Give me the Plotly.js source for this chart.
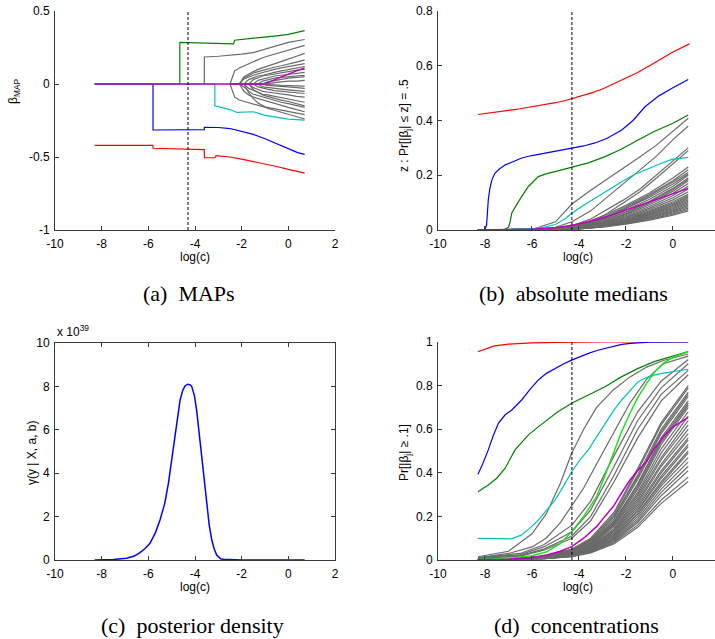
<!DOCTYPE html>
<html><head><meta charset="utf-8">
<script src="https://cdn.plot.ly/plotly-3.0.1.min.js"></script>
<style>html,body{margin:0;padding:0;background:#fff}#chart{width:715px;height:639px}</style>
</head><body><div id="chart"></div>
<script>
// ---------- tick labels ----------
const xTicks = [-10, -8, -6, -4, -2, 0, 2];
const xTickText = ['-10', '-8', '-6', '-4', '-2', '0', '2'];
const yTicksA = [-1, -0.5, 0, 0.5];
const yTickTextA = ['-1', '-0.5', '0', '0.5'];
const yTicksB = [0, 0.2, 0.4, 0.6, 0.8];
const yTicksC = [0, 2, 4, 6, 8, 10];
const yTicksD = [0, 0.2, 0.4, 0.6, 0.8, 1];
const cStar = -4.3;

// ---------- (a) MAPs ----------
const mapRedX = [-8.3, -5.8, -5.8, -4, -3.6, -3.6, -3.15, -3.1, -2.5, -2, -1.5, -1, -0.5, 0, 0.7];
const mapRedY = [-0.42, -0.42, -0.44, -0.445, -0.45, -0.505, -0.505, -0.49, -0.5, -0.515, -0.53, -0.545, -0.565, -0.585, -0.61];
const mapBlueX = [-8.3, -5.8, -5.8, -4, -3.6, -3.6, -3, -2.5, -2, -1.5, -1, -0.5, 0, 0.4, 0.7];
const mapBlueY = [0, 0, -0.315, -0.315, -0.313, -0.297, -0.298, -0.305, -0.325, -0.345, -0.375, -0.41, -0.445, -0.47, -0.482];
const mapGreenX = [-8.3, -4.65, -4.65, -4, -3.5, -2.6, -2.35, -2.3, -2, -1.5, -1, -0.5, 0, 0.4, 0.7];
const mapGreenY = [0, 0, 0.285, 0.283, 0.279, 0.275, 0.275, 0.3, 0.305, 0.31, 0.318, 0.33, 0.34, 0.355, 0.365];
const mapCyanX = [-8.3, -3.15, -3.15, -3, -2.5, -2.2, -1.8, -1.5, -1, -0.5, 0, 0.7];
const mapCyanY = [0, 0, -0.15, -0.155, -0.175, -0.195, -0.19, -0.19, -0.215, -0.23, -0.24, -0.247];
const mapMagX = [-8.3, -1.0, -0.5, 0, 0.35, 0.7];
const mapMagY = [0, 0, 0.035, 0.07, 0.09, 0.11];
const mapGrayStepX = [-3.6, -3.6, -3.0, -2.5, -2.0, -1.5, -1.0, -0.5, 0, 0.7];
const mapGrayStepY = [0, 0.185, 0.19, 0.195, 0.205, 0.215, 0.24, 0.265, 0.285, 0.305];
const mapGrayX = [-2.5, -2.3, -2.1, -1.9, -1.7, -1.5, -1.3, -1.1, -0.9, -0.6, -0.3, 0.0, 0.35, 0.7];
const mapGrayY = [
  [0, 0.09, 0.11, 0.125, 0.14, 0.155, 0.165, 0.18, 0.19, 0.205, 0.22, 0.235, 0.25, 0.265],
  [0, -0.09, -0.11, -0.12, -0.13, -0.14, -0.15, -0.155, -0.16, -0.17, -0.18, -0.19, -0.2, -0.21],
  [0, 0, 0, 0.05, 0.07, 0.085, 0.1, 0.11, 0.12, 0.14, 0.155, 0.17, 0.19, 0.21],
  [0, 0, 0, -0.05, -0.075, -0.09, -0.1, -0.11, -0.12, -0.135, -0.15, -0.16, -0.175, -0.19],
  [0, 0, 0, 0.035, 0.05, 0.06, 0.07, 0.08, 0.09, 0.1, 0.11, 0.12, 0.13, 0.14],
  [0, 0, 0, -0.02, -0.05, -0.07, -0.08, -0.09, -0.1, -0.115, -0.125, -0.135, -0.15, -0.16],
  [0, 0, 0, 0, 0.03, 0.045, 0.055, 0.06, 0.07, 0.08, 0.09, 0.1, 0.11, 0.12],
  [0, 0, 0, 0, -0.03, -0.045, -0.06, -0.07, -0.075, -0.085, -0.095, -0.1, -0.115, -0.125],
  [0, 0, 0, 0, 0, 0.03, 0.045, 0.055, 0.06, 0.07, 0.08, 0.085, 0.095, 0.1],
  [0, 0, 0, 0, 0, -0.025, -0.04, -0.05, -0.055, -0.06, -0.07, -0.075, -0.085, -0.09],
  [0, 0, 0, 0, 0, 0, 0.025, 0.035, 0.045, 0.055, 0.06, 0.065, 0.075, 0.08],
  [0, 0, 0, 0, 0, 0, -0.02, -0.03, -0.035, -0.045, -0.05, -0.055, -0.06, -0.065],
  [0, 0, 0, 0, 0, 0, 0, 0.02, 0.03, 0.04, 0.045, 0.05, 0.055, 0.06],
  [0, 0, 0, 0, 0, 0, 0, -0.02, -0.025, -0.03, -0.035, -0.04, -0.045, -0.05],
  [0, 0, 0, 0, 0, 0, 0, 0, 0.015, 0.025, 0.03, 0.04, 0.045, 0.05],
  [0, 0, 0, 0, 0, 0, 0, 0, -0.01, -0.015, -0.02, -0.02, -0.025, -0.03],
  [0, 0, 0, 0, -0.06, -0.1, -0.13, -0.15, -0.165, -0.18, -0.195, -0.21, -0.225, -0.24],
  [0, 0, 0, 0.04, 0.06, 0.075, 0.085, 0.095, 0.105, 0.115, 0.125, 0.135, 0.15, 0.165],
  [0, 0, 0, 0, 0, 0, 0, 0, 0, 0.01, 0.015, 0.02, 0.02, 0.025],
  [0, 0, 0, 0, 0, 0, 0, 0, 0, -0.005, -0.01, -0.01, -0.012, -0.015],
  [0, 0, 0, 0, 0, -0.04, -0.06, -0.075, -0.085, -0.1, -0.11, -0.12, -0.135, -0.15]
];

// ---------- (b) absolute medians ----------
const medRedX = [-8.3, -7.5, -7, -6.5, -6, -5.5, -5, -4.5, -4, -3.5, -3, -2.5, -2, -1.5, -1, -0.5, 0, 0.7];
const medRedY = [0.422, 0.43, 0.437, 0.443, 0.45, 0.457, 0.465, 0.475, 0.487, 0.5, 0.515, 0.535, 0.555, 0.575, 0.6, 0.625, 0.65, 0.68];
const medBlueX = [-8.3, -8.0, -7.93, -7.86, -7.79, -7.7, -7.57, -7.4, -7.15, -6.8, -6.44, -6, -5.5, -5, -4.31, -3.8, -3.32, -2.8, -2.18, -1.7, -1.19, -0.6, 0, 0.65];
const medBlueY = [0, 0.002, 0.02, 0.11, 0.153, 0.185, 0.208, 0.222, 0.237, 0.25, 0.263, 0.272, 0.28, 0.287, 0.3, 0.307, 0.318, 0.335, 0.365, 0.4, 0.45, 0.49, 0.52, 0.55];
const medGreenX = [-8.3, -7.2, -7.0, -6.93, -6.86, -6.72, -6.6, -6.44, -6.16, -5.73, -5.4, -5.02, -4.31, -3.6, -2.89, -2.2, -1.48, -0.8, 0, 0.65];
const medGreenY = [0, 0.001, 0.01, 0.03, 0.062, 0.085, 0.1, 0.122, 0.158, 0.195, 0.205, 0.213, 0.229, 0.245, 0.268, 0.295, 0.329, 0.36, 0.39, 0.42];
const medCyanX = [-8.3, -7, -6, -5.5, -5, -4.6, -4.31, -3.8, -3.32, -2.8, -2.18, -1.7, -1.19, -0.6, -0.05, 0.65];
const medCyanY = [0, 0.001, 0.004, 0.01, 0.02, 0.04, 0.061, 0.09, 0.116, 0.145, 0.176, 0.2, 0.219, 0.24, 0.258, 0.265];
const medMagX = [-8.3, -7, -6, -5, -4.24, -3.5, -2.82, -2.1, -1.4, -0.7, 0, 0.65];
const medMagY = [0, 0.001, 0.003, 0.008, 0.018, 0.032, 0.049, 0.07, 0.091, 0.113, 0.133, 0.152];
const medGrayTopX = [-8.3, -6, -5, -4.3, -3.5, -2.8, -2.1, -1.4, -0.7, 0, 0.65];
const medGrayTopY = [
  [0, 0.002, 0.03, 0.095, 0.145, 0.185, 0.225, 0.268, 0.31, 0.36, 0.408],
  [0, 0.002, 0.01, 0.03, 0.07, 0.12, 0.17, 0.22, 0.27, 0.33, 0.38],
  [0, 0.001, 0.005, 0.015, 0.04, 0.075, 0.11, 0.15, 0.2, 0.25, 0.3],
  [0, 0.001, 0.004, 0.012, 0.03, 0.06, 0.1, 0.14, 0.19, 0.24, 0.29]
];
const medGrayX = [-8.3, -5, -4, -3, -2, -1, 0, 0.65];
const medGrayY = [
  [0, 0.004, 0.02, 0.05, 0.09, 0.135, 0.19, 0.23],
  [0, 0.003, 0.016, 0.045, 0.085, 0.13, 0.18, 0.22],
  [0, 0.003, 0.015, 0.04, 0.08, 0.125, 0.175, 0.21],
  [0, 0.004, 0.018, 0.042, 0.078, 0.12, 0.168, 0.205],
  [0, 0.003, 0.014, 0.038, 0.072, 0.112, 0.16, 0.2],
  [0, 0.002, 0.012, 0.034, 0.066, 0.105, 0.152, 0.19],
  [0, 0.003, 0.013, 0.035, 0.065, 0.102, 0.148, 0.185],
  [0, 0.002, 0.011, 0.03, 0.06, 0.098, 0.142, 0.18],
  [0, 0.002, 0.01, 0.028, 0.056, 0.092, 0.134, 0.17],
  [0, 0.002, 0.01, 0.026, 0.052, 0.086, 0.126, 0.16],
  [0, 0.002, 0.009, 0.024, 0.048, 0.08, 0.118, 0.15],
  [0, 0.002, 0.009, 0.023, 0.045, 0.075, 0.11, 0.14],
  [0, 0.002, 0.008, 0.021, 0.042, 0.07, 0.103, 0.13],
  [0, 0.001, 0.007, 0.019, 0.039, 0.066, 0.098, 0.125],
  [0, 0.001, 0.007, 0.018, 0.037, 0.063, 0.094, 0.12],
  [0, 0.001, 0.006, 0.017, 0.035, 0.06, 0.09, 0.115],
  [0, 0.001, 0.006, 0.016, 0.034, 0.057, 0.086, 0.11],
  [0, 0.001, 0.006, 0.016, 0.032, 0.055, 0.082, 0.105],
  [0, 0.001, 0.005, 0.015, 0.03, 0.052, 0.078, 0.1],
  [0, 0.001, 0.005, 0.014, 0.029, 0.049, 0.074, 0.095],
  [0, 0.001, 0.005, 0.013, 0.027, 0.046, 0.07, 0.09],
  [0, 0.001, 0.004, 0.012, 0.026, 0.044, 0.066, 0.085],
  [0, 0.001, 0.004, 0.012, 0.024, 0.041, 0.062, 0.08],
  [0, 0.001, 0.004, 0.011, 0.023, 0.039, 0.058, 0.075],
  [0, 0.001, 0.004, 0.01, 0.021, 0.036, 0.054, 0.07]
];

// ---------- (c) posterior density (x 10^39) ----------
const denX = [-8.3, -7.5, -6.93, -6.6, -6.36, -6.15, -5.93, -5.7, -5.5, -5.3, -5.14, -5.0, -4.86, -4.75, -4.64, -4.53, -4.43, -4.31, -4.2, -4.14, -4.03, -3.93, -3.82, -3.71, -3.6, -3.5, -3.39, -3.28, -3.17, -3.07, -2.9, -2.79, -2.5, -2, -1, 0, 0.7];
const denY = [0, 0.02, 0.08, 0.18, 0.34, 0.52, 0.77, 1.25, 1.84, 2.6, 3.53, 4.6, 5.68, 6.6, 7.37, 7.8, 8.02, 8.1, 8.07, 7.99, 7.6, 6.91, 5.85, 4.76, 3.6, 2.46, 1.6, 0.92, 0.48, 0.23, 0.06, 0.03, 0.01, 0, 0, 0, 0];

// ---------- (d) concentrations ----------
const conRedX = [-8.3, -8, -7.6, -7, -6.5, -6, -5, -4, -3, 0.65];
const conRedY = [0.955, 0.968, 0.982, 0.99, 0.994, 0.996, 0.998, 0.999, 1, 1];
const conBlueX = [-8.3, -8.1, -7.86, -7.65, -7.43, -7.15, -6.86, -6.44, -6.1, -5.73, -5.4, -5.02, -4.65, -4.31, -3.95, -3.6, -3.2, -2.89, -2.5, -2.18, -1.8, -1.48, -1, 0, 0.65];
const conBlueY = [0.393, 0.44, 0.505, 0.57, 0.627, 0.665, 0.688, 0.734, 0.78, 0.826, 0.855, 0.879, 0.9, 0.917, 0.934, 0.948, 0.962, 0.971, 0.982, 0.989, 0.994, 0.997, 0.999, 1, 1];
const conGreenX = [-8.3, -7.86, -7.5, -7.15, -6.72, -6.45, -6.16, -5.8, -5.45, -4.9, -4.31, -3.6, -2.89, -2.2, -1.48, -0.8, -0.05, 0.65];
const conGreenY = [0.313, 0.344, 0.375, 0.42, 0.505, 0.54, 0.573, 0.605, 0.634, 0.68, 0.719, 0.758, 0.795, 0.84, 0.879, 0.91, 0.933, 0.956];
const conCyanX = [-8.3, -7.6, -7.2, -6.86, -6.44, -6.1, -5.73, -5.4, -5.02, -4.65, -4.31, -3.95, -3.6, -3.25, -2.89, -2.5, -2.18, -1.8, -1.48, -1.1, -0.77, -0.4, -0.05, 0.65];
const conCyanY = [0.099, 0.1, 0.098, 0.097, 0.115, 0.145, 0.183, 0.225, 0.275, 0.34, 0.405, 0.46, 0.505, 0.565, 0.627, 0.69, 0.734, 0.78, 0.818, 0.838, 0.849, 0.857, 0.864, 0.875];
const conLimeX = [-8.3, -7.5, -6.8, -6, -5.37, -4.8, -4.31, -3.8, -3.25, -2.9, -2.54, -2.2, -1.83, -1.5, -1.12, -0.8, -0.41, 0, 0.65];
const conLimeY = [0.004, 0.006, 0.01, 0.02, 0.038, 0.075, 0.13, 0.2, 0.29, 0.385, 0.49, 0.585, 0.673, 0.745, 0.81, 0.86, 0.902, 0.93, 0.956];
const conMagX = [-8.3, -7, -6.09, -5.37, -4.8, -4.31, -3.8, -3.25, -2.9, -2.54, -2.2, -1.83, -1.5, -1.12, -0.8, -0.41, 0, 0.65];
const conMagY = [0.002, 0.004, 0.01, 0.023, 0.04, 0.061, 0.1, 0.153, 0.2, 0.245, 0.305, 0.367, 0.41, 0.451, 0.51, 0.566, 0.61, 0.654];
const conGrayTopX = [-8.3, -7, -6, -5.4, -4.8, -4.31, -3.8, -3.25, -2.54, -1.83, -1.12, -0.41, 0.65];
const conGrayTopY = [
  [0.015, 0.04, 0.12, 0.21, 0.35, 0.49, 0.6, 0.7, 0.78, 0.84, 0.885, 0.915, 0.945],
  [0.01, 0.03, 0.06, 0.1, 0.17, 0.25, 0.33, 0.44, 0.58, 0.72, 0.83, 0.9, 0.935]
];
const conGrayX = [-8.3, -6.5, -5.5, -4.3, -3.5, -2.5, -1.5, -0.5, 0.65];
const conGrayY = [
  [0.01, 0.03, 0.07, 0.16, 0.27, 0.48, 0.68, 0.82, 0.92],
  [0.008, 0.025, 0.06, 0.13, 0.23, 0.43, 0.64, 0.79, 0.9],
  [0.006, 0.02, 0.05, 0.11, 0.2, 0.39, 0.6, 0.76, 0.87],
  [0.005, 0.018, 0.045, 0.1, 0.18, 0.36, 0.56, 0.73, 0.85],
  [0.003, 0.008, 0.018, 0.05, 0.1, 0.22, 0.42, 0.63, 0.8],
  [0.003, 0.008, 0.017, 0.048, 0.095, 0.21, 0.41, 0.62, 0.79],
  [0.002, 0.007, 0.016, 0.045, 0.09, 0.2, 0.39, 0.6, 0.77],
  [0.002, 0.007, 0.015, 0.043, 0.088, 0.2, 0.38, 0.59, 0.76],
  [0.002, 0.006, 0.015, 0.042, 0.085, 0.19, 0.37, 0.58, 0.75],
  [0.002, 0.006, 0.014, 0.04, 0.08, 0.18, 0.35, 0.56, 0.73],
  [0.002, 0.006, 0.014, 0.038, 0.078, 0.175, 0.345, 0.55, 0.72],
  [0.002, 0.005, 0.013, 0.036, 0.075, 0.17, 0.335, 0.54, 0.71],
  [0.002, 0.005, 0.012, 0.034, 0.072, 0.165, 0.325, 0.53, 0.7],
  [0.002, 0.005, 0.012, 0.033, 0.07, 0.16, 0.31, 0.51, 0.68],
  [0.002, 0.005, 0.011, 0.032, 0.067, 0.155, 0.3, 0.49, 0.66],
  [0.002, 0.004, 0.01, 0.03, 0.063, 0.145, 0.29, 0.47, 0.64],
  [0.001, 0.004, 0.01, 0.029, 0.06, 0.14, 0.28, 0.46, 0.62],
  [0.001, 0.004, 0.01, 0.028, 0.058, 0.135, 0.27, 0.44, 0.6],
  [0.001, 0.004, 0.009, 0.027, 0.055, 0.13, 0.26, 0.43, 0.58],
  [0.001, 0.004, 0.009, 0.026, 0.053, 0.125, 0.25, 0.41, 0.56],
  [0.001, 0.003, 0.009, 0.025, 0.051, 0.12, 0.24, 0.4, 0.55],
  [0.001, 0.003, 0.008, 0.024, 0.05, 0.115, 0.23, 0.385, 0.53],
  [0.001, 0.003, 0.008, 0.023, 0.048, 0.11, 0.225, 0.375, 0.52],
  [0.001, 0.003, 0.008, 0.022, 0.046, 0.105, 0.215, 0.36, 0.5],
  [0.001, 0.003, 0.007, 0.021, 0.045, 0.1, 0.21, 0.35, 0.49],
  [0.001, 0.003, 0.007, 0.02, 0.043, 0.097, 0.2, 0.34, 0.47],
  [0.001, 0.003, 0.007, 0.019, 0.041, 0.093, 0.19, 0.325, 0.45],
  [0.001, 0.002, 0.006, 0.018, 0.039, 0.089, 0.18, 0.31, 0.43],
  [0.001, 0.002, 0.006, 0.017, 0.037, 0.085, 0.172, 0.295, 0.41],
  [0.001, 0.002, 0.006, 0.016, 0.035, 0.08, 0.16, 0.275, 0.38],
  [0.001, 0.002, 0.005, 0.015, 0.033, 0.075, 0.15, 0.26, 0.36]
];

// ---------- build ----------
const W = 715, H = 639;
const C = {red:'#ff0000', blue:'#0000ff', green:'#008000', cyan:'#00bfbf', mag:'#c000c0', gray:'#6a6a6a', lime:'#22e022'};
const traces = [];
function ln(x, y, color, ax, w) {
  traces.push({type:'scatter', mode:'lines', x:x, y:y, xaxis:'x'+ax, yaxis:'y'+ax,
    line:{color:color, width:w||1.2}, hoverinfo:'skip', showlegend:false});
}
// (a)
mapGrayY.forEach(y => ln(mapGrayX, y, C.gray, ''));
ln(mapGrayStepX, mapGrayStepY, C.gray, '');
ln(mapRedX, mapRedY, C.red, '');
ln(mapBlueX, mapBlueY, C.blue, '');
ln(mapGreenX, mapGreenY, C.green, '');
ln(mapCyanX, mapCyanY, C.cyan, '');
ln(mapMagX, mapMagY, C.mag, '', 1.4);
// (b)
medGrayY.forEach(y => ln(medGrayX, y, C.gray, '2'));
medGrayTopY.forEach(y => ln(medGrayTopX, y, C.gray, '2'));
ln(medRedX, medRedY, C.red, '2');
ln(medBlueX, medBlueY, C.blue, '2');
ln(medGreenX, medGreenY, C.green, '2');
ln(medCyanX, medCyanY, C.cyan, '2');
ln(medMagX, medMagY, C.mag, '2', 1.5);
// (c)
ln(denX, denY, C.blue, '3', 1.5);
// (d)
conGrayY.forEach(y => ln(conGrayX, y, C.gray, '4'));
conGrayTopY.forEach(y => ln(conGrayTopX, y, C.gray, '4'));
ln(conRedX, conRedY, C.red, '4');
ln(conBlueX, conBlueY, C.blue, '4');
ln(conGreenX, conGreenY, C.green, '4');
ln(conCyanX, conCyanY, C.cyan, '4');
ln(conLimeX, conLimeY, C.lime, '4', 1.5);
ln(conMagX, conMagY, C.mag, '4', 1.5);

const sans = 'Liberation Sans, Arial, sans-serif';
const base = {showline:true, linecolor:'#3a3a3a', linewidth:1, ticks:'inside', ticklen:4,
  tickcolor:'#3a3a3a', showgrid:false, zeroline:false, fixedrange:true,
  tickfont:{family:sans, size:12, color:'#000'}};
const xb = Object.assign({}, base, {ticklabelstandoff:3});
const yb = Object.assign({}, base, {ticklabelstandoff:2});
const fx = p => p / W, fy = p => 1 - p / H;
const xdomL = [fx(55), fx(335)], xdomR = [fx(438), 1];
const ydomT = [fy(230), fy(11)], ydomC = [fy(560), fy(343)], ydomD = [fy(560), fy(342)];

const layout = {
  width: W, height: H, margin:{l:0, r:0, t:0, b:0}, paper_bgcolor:'#fff', plot_bgcolor:'rgba(0,0,0,0)',
  showlegend:false,
  xaxis: Object.assign({}, xb, {domain:xdomL, range:[-10, 2], tickvals:xTicks, ticktext:xTickText, anchor:'y'}),
  yaxis: Object.assign({}, yb, {domain:ydomT, range:[-1, 0.5], tickvals:yTicksA, ticktext:yTickTextA, anchor:'x'}),
  xaxis2: Object.assign({}, xb, {domain:xdomR, range:[-10, 1.79], tickvals:xTicks.slice(0, 6), ticktext:xTickText.slice(0, 6), anchor:'y2'}),
  yaxis2: Object.assign({}, yb, {domain:ydomT, range:[0, 0.8], tickvals:yTicksB, ticktext:yTicksB.map(String), anchor:'x2'}),
  xaxis3: Object.assign({}, xb, {domain:xdomL, range:[-10, 2], tickvals:xTicks, ticktext:xTickText, anchor:'y3', mirror:'ticks'}),
  yaxis3: Object.assign({}, yb, {domain:ydomC, range:[0, 10], tickvals:yTicksC, ticktext:yTicksC.map(String), anchor:'x3', mirror:'ticks'}),
  xaxis4: Object.assign({}, xb, {domain:xdomR, range:[-10, 1.79], tickvals:xTicks.slice(0, 6), ticktext:xTickText.slice(0, 6), anchor:'y4'}),
  yaxis4: Object.assign({}, yb, {domain:ydomD, range:[0, 1], tickvals:yTicksD, ticktext:yTicksD.map(String), anchor:'x4'}),
  shapes: ['', '2', '4'].map(a => ({type:'line', xref:'x'+a, yref:'y'+a+' domain', x0:cStar, x1:cStar, y0:0, y1:1,
    line:{color:'#000', width:1, dash:'3px,2px'}})),
  annotations: []
};
const ann = layout.annotations;
function txt(text, x, y, opts) {
  ann.push(Object.assign({text:text, xref:'paper', yref:'paper', x:fx(x), y:fy(y), showarrow:false,
    xanchor:'center', yanchor:'middle', font:{family:sans, size:12, color:'#000'}}, opts || {}));
}
// axis titles
txt('log(c)', 195, 257); txt('log(c)', 578, 257);
txt('log(c)', 195, 587); txt('log(c)', 578, 587);
txt('β<sub>MAP</sub>', 14, 92, {textangle:-90});
txt('z : Pr[|β<sub>j</sub>| ≤ z] = .5', 405, 126, {textangle:-90});
txt('γ(y | X, a, b)', 32, 453, {textangle:-90});
txt('Pr[|β<sub>j</sub>| ≥ .1]', 405, 453, {textangle:-90});
txt('x 10<sup>39</sup>', 55, 341, {xanchor:'left', yanchor:'bottom'});
// captions
const serif = {family:'Liberation Serif, Times New Roman, serif', size:22, color:'#000'};
txt('(a)  MAPs', 189, 293, {font:serif});
txt('(b)  absolute medians', 573, 293, {font:serif});
txt('(c)  posterior density', 193, 625, {font:serif});
txt('(d)  concentrations', 576, 625, {font:serif});

Plotly.newPlot('chart', traces, layout, {displayModeBar:false, staticPlot:true});
</script></body></html>
